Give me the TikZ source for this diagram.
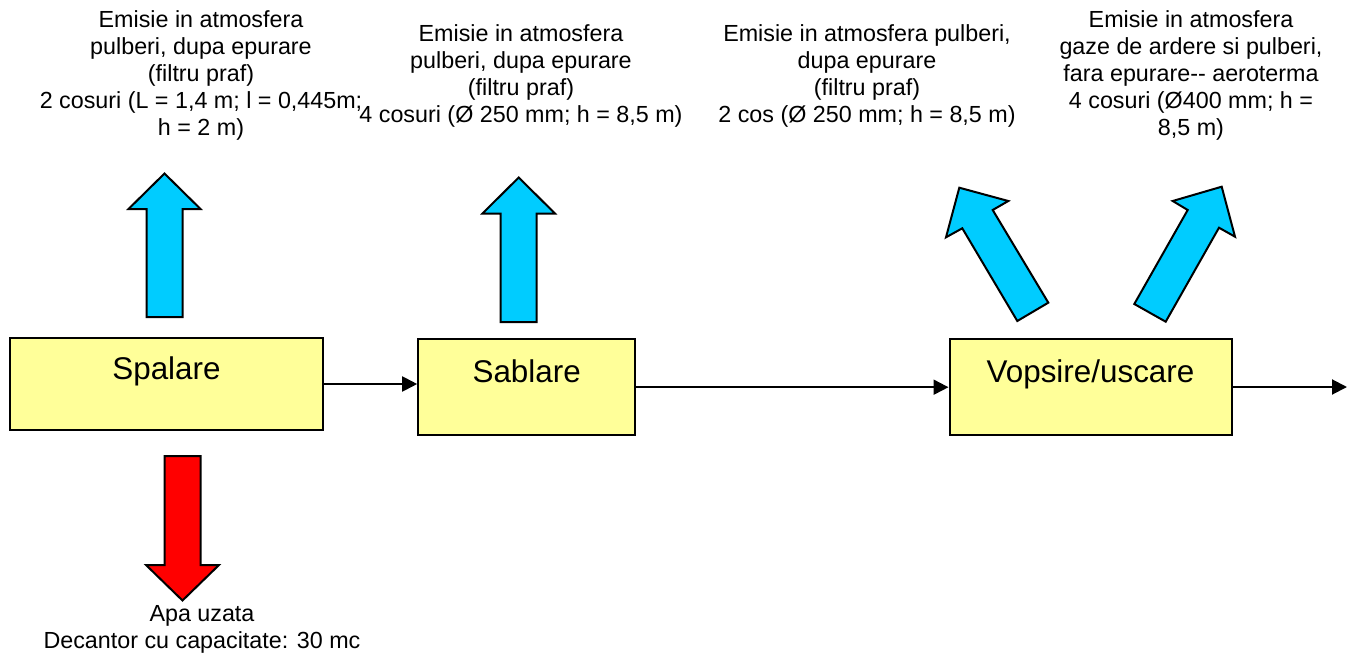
\documentclass[tikz,border=0pt]{standalone}
\usepackage{fontspec}
\setmainfont{Liberation Sans}
\usetikzlibrary{arrows.meta}

\definecolor{galben}{HTML}{FFFF99}
\definecolor{albastru}{HTML}{00CCFF}

\begin{document}
\begin{tikzpicture}[x=0.5pt,y=-0.5pt,->,>={Triangle[length=7.5pt,width=7.5pt]},line width=1pt,
    etapa/.style={draw,fill=galben,inner sep=0pt,text height=8pt,text depth=13pt,font=\fontsize{15.7}{18}\selectfont},
    eticheta/.style={align=center,inner sep=0pt,font=\fontsize{11.65}{13.6}\selectfont},
    emisie/.style={draw,fill=albastru,line width=1pt,-},
    apa/.style={draw,fill=red,line width=1pt,-}]

            \useasboundingbox (0,0) rectangle (1357,653);

            \node[etapa, minimum width=156.5pt, minimum height=46pt] (spalare) at (166.5,384) {Spalare};
            \node[etapa, minimum width=108.5pt, minimum height=47.8pt] (sablare) at (526.7,387.2) {Sablare};
            \node[etapa, minimum width=141pt, minimum height=48pt] (vopsire) at (1090.5,387) {Vopsire/uscare};
            \coordinate (iesire) at (1347,387);

            \node[eticheta] (em1) at (201,75.5) {Emisie in atmosfera\\pulberi, dupa epurare\\(filtru praf)\\2 cosuri (L = 1,4 m; l = 0,445m;\\h = 2 m)};
            \node[eticheta] (em2) at (521,76) {Emisie in atmosfera\\pulberi, dupa epurare\\(filtru praf)\\4 cosuri (Ø 250 mm; h = 8,5 m)};
            \node[eticheta] (em3) at (867,76) {Emisie in atmosfera pulberi,\\dupa epurare\\(filtru praf)\\2 cos (Ø 250 mm; h = 8,5 m)};
            \node[eticheta] (em4) at (1191,75.5) {Emisie in atmosfera\\gaze de ardere si pulberi,\\fara epurare-{}- aeroterma\\4 cosuri (Ø400 mm; h =\\8,5 m)};
            \node[eticheta] (apa) at (202,629) {Apa uzata\\Decantor cu capacitate: 30 mc};

            \draw (spalare.east) -- (spalare.east -| sablare.west);
            \draw (sablare.east) -- (sablare.east -| vopsire.west);
            \draw (vopsire.east) -- (iesire);

            \draw[emisie] (164.5,173.5) -- (200.5,209) -- (182.5,209) -- (182.5,317) -- (146.5,317) -- (146.5,209) -- (128.5,209) -- cycle;
            \draw[emisie] (518.7,177.5) -- (555,213.5) -- (536.7,213.5) -- (536.7,322) -- (500.7,322) -- (500.7,213.5) -- (482.5,213.5) -- cycle;
            \draw[emisie] (959.3,187.7) -- (1008.3,201) -- (992.7,210) -- (1048.3,302.7) -- (1017.3,321) -- (962.3,228.3) -- (946,237.3) -- cycle;
            \draw[emisie] (1221.7,186.7) -- (1235,236.7) -- (1219,227.7) -- (1165.7,321.7) -- (1134.3,304) -- (1187.7,210) -- (1172.7,201) -- cycle;
            \draw[apa] (164.5,456) -- (200.5,456) -- (200.5,565) -- (219,565) -- (182.5,600.5) -- (146,565) -- (164.5,565) -- cycle;
\end{tikzpicture}
\end{document}
